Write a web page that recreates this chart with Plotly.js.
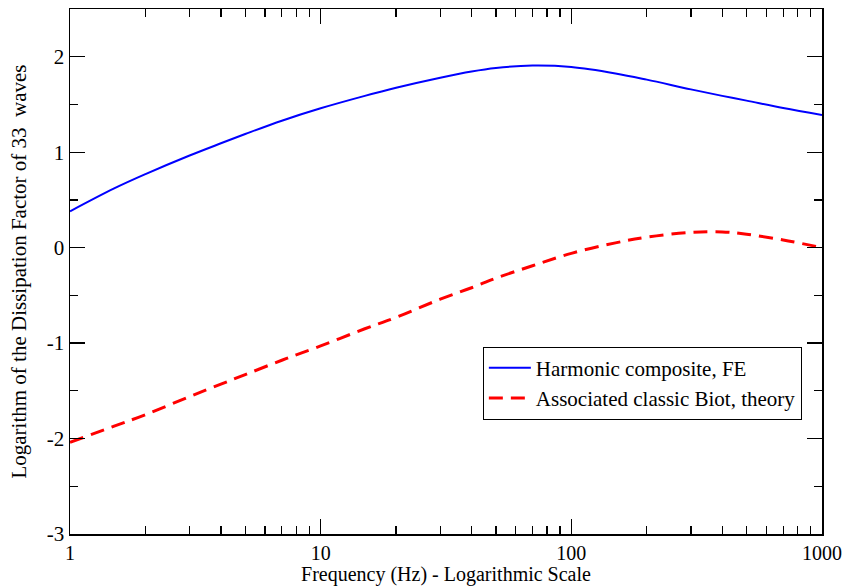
<!DOCTYPE html>
<html>
<head>
<meta charset="utf-8">
<script src="https://cdn.plot.ly/plotly-3.0.1.min.js"></script>
<style>html,body{margin:0;padding:0;background:#fff;}#chart{width:858px;height:586px;}</style>
</head>
<body>
<div id="chart"></div>
<script>
const frequency = [1, 1.5, 2, 3, 4, 5, 7, 10, 15, 20, 30, 40, 50, 70, 100, 150, 200, 300, 400, 500, 700, 1000];
const harmonicFE = [0.38, 0.62, 0.77, 0.965, 1.093, 1.19, 1.33, 1.46, 1.59, 1.675, 1.78, 1.845, 1.882, 1.907, 1.892, 1.825, 1.76, 1.658, 1.59, 1.54, 1.463, 1.39];
const biotTheory = [-2.04, -1.87, -1.75, -1.56, -1.43, -1.33, -1.18, -1.03, -0.85, -0.73, -0.54, -0.42, -0.32, -0.19, -0.06, 0.05, 0.11, 0.16, 0.165, 0.14, 0.08, 0.0];
const seriesNames = ["Harmonic composite, FE", "Associated classic Biot, theory"];
const xTickVals = [1, 10, 100, 1000];
const xTickText = ["1", "10", "100", "1000"];
const yTickVals = [-3, -2, -1, 0, 1, 2];
const yTickText = ["-3", "-2", "-1", "0", "1", "2"];
const xMinorVals = [2,3,4,5,6,7,8,9,20,30,40,50,60,70,80,90,200,300,400,500,600,700,800,900];

const font = "Liberation Serif";

const traces = [
  {x: frequency, y: harmonicFE, name: seriesNames[0], mode: "lines", type: "scatter",
   line: {color: "#0000ff", width: 2, shape: "spline", smoothing: 1}},
  {x: frequency, y: biotTheory, name: seriesNames[1], mode: "lines", type: "scatter",
   line: {color: "#ff0000", width: 3, dash: "14px,8px", shape: "spline", smoothing: 1}}
];

const layout = {
  width: 858, height: 586,
  margin: {l: 70, r: 36, t: 9, b: 52},
  paper_bgcolor: "#fff", plot_bgcolor: "#fff",
  font: {family: font, size: 21, color: "#000"},
  showlegend: true,
  legend: {x: 0.549, y: 0.357, xanchor: "left", yanchor: "top",
           bgcolor: "#fff", bordercolor: "#000", borderwidth: 1,
           font: {family: font, size: 21, color: "#000"},
           tracegroupgap: 0, itemwidth: 42},
  xaxis: {
    type: "log", range: [0, 3],
    tickvals: xTickVals, ticktext: xTickText,
    ticks: "inside", ticklen: 15, tickwidth: 1.3, tickcolor: "#000",
    showline: true, linecolor: "#000", linewidth: 1.5, mirror: "ticks",
    showgrid: false, zeroline: false,
    tickfont: {family: font, size: 20, color: "#000"},
    minor: {tickvals: xMinorVals, ticks: "inside", ticklen: 8, tickwidth: 1.3, tickcolor: "#000", showgrid: false},
    title: {text: "Frequency (Hz) - Logarithmic Scale", font: {family: font, size: 20, color: "#000"}, standoff: 0}
  },
  yaxis: {
    range: [-3, 2.5], tickvals: yTickVals, ticktext: yTickText,
    ticks: "inside", ticklen: 15, tickwidth: 1.3, tickcolor: "#000",
    showline: true, linecolor: "#000", linewidth: 1.5, mirror: "ticks",
    showgrid: false, zeroline: false,
    tickfont: {family: font, size: 21, color: "#000"},
    minor: {dtick: 0.5, tick0: 0, ticks: "inside", ticklen: 8, tickwidth: 1.3, tickcolor: "#000", showgrid: false},
    title: {text: "Logarithm of the Dissipation Factor of 33\u00a0 waves", font: {family: font, size: 21, color: "#000"}, standoff: 14}
  }
};

Plotly.newPlot("chart", traces, layout, {displayModeBar: false, staticPlot: true});
</script>
</body>
</html>
